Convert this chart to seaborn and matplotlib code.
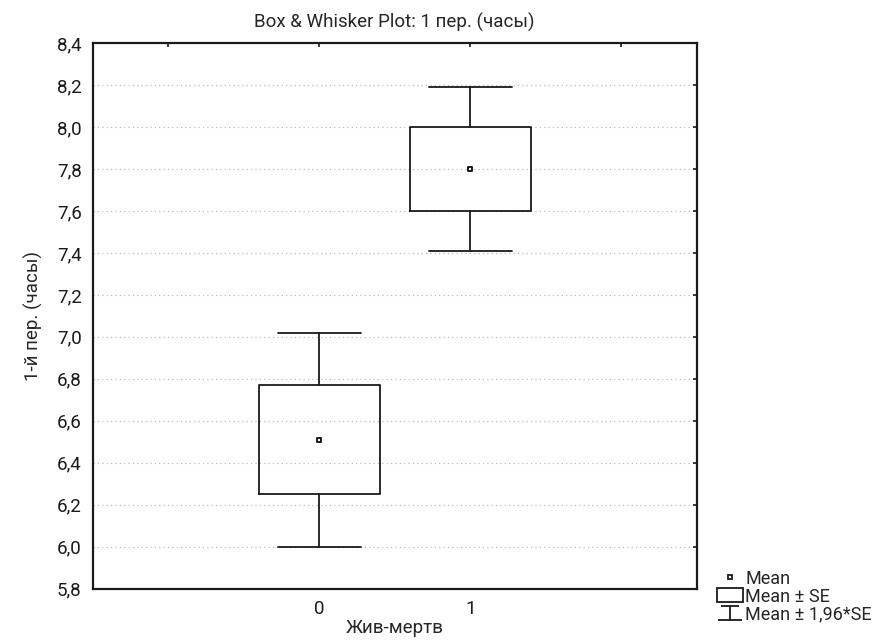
import numpy as np
import pandas as pd
import matplotlib
matplotlib.use("Agg")
import matplotlib.pyplot as plt
import seaborn as sns
from matplotlib.lines import Line2D
from matplotlib.patches import Patch
from matplotlib.path import Path

# values
groups = ["0", "1"]
means = [6.51, 7.80]
se = [0.26, 0.20]
y_ticks = [5.8, 6.0, 6.2, 6.4, 6.6, 6.8, 7.0, 7.2, 7.4, 7.6, 7.8, 8.0, 8.2, 8.4]

sns.set_theme(style="white")
plt.rcParams["font.family"] = ["Roboto", "DejaVu Sans"]

df = pd.DataFrame({"group": groups, "pos": np.arange(len(groups)),
                   "mean": means, "se": se})

fig = plt.figure(figsize=(8.92, 6.42), dpi=100)
ax = fig.add_axes([0.104, 0.083, 0.677, 0.85])

# box = mean +- SE, whiskers = mean +- 1.96*SE
stats = []
for _, r in df.iterrows():
    stats.append({"med": r["mean"], "q1": r["mean"] - r["se"], "q3": r["mean"] + r["se"],
                  "whislo": r["mean"] - 1.96 * r["se"], "whishi": r["mean"] + 1.96 * r["se"],
                  "fliers": [], "label": r["group"]})
line_kw = dict(color="#1a1a1a", linewidth=1.3)
ax.bxp(stats, positions=df["pos"], widths=0.8, capwidths=0.55, showfliers=False,
       boxprops=line_kw, whiskerprops=line_kw, capprops=line_kw,
       medianprops=dict(linewidth=0), manage_ticks=False)

sns.scatterplot(data=df, x="pos", y="mean", marker="s", s=10, color="white",
                edgecolor="#1a1a1a", linewidth=1.4, zorder=5, ax=ax)

ax.set_xlim(-1.5, 2.5)
ax.set_ylim(5.8, 8.4)
ax.set_xticks([-1, 0, 1, 2])
ax.set_xticklabels(["", "0", "1", ""])
ax.set_yticks(y_ticks)
ax.set_yticklabels([f"{v:.1f}".replace(".", ",") for v in y_ticks])
for v in y_ticks[1:-1]:
    ax.axhline(v, color="#bbbbbb", linestyle=(0, (1, 2.5)), linewidth=0.9, zorder=0)

ax.tick_params(direction="in", length=3, width=1.2, top=True, right=True,
               labelsize=13.5, colors="#1a1a1a", pad=8)
for s in ax.spines.values():
    s.set_linewidth(1.6)
    s.set_color("#1a1a1a")

ax.set_xlabel("Жив-мертв", fontsize=13.5, labelpad=1)
ax.set_ylabel("1-й пер. (часы)", fontsize=13.5, labelpad=10)
ax.set_title("Box & Whisker Plot: 1 пер. (часы)", fontsize=13.5, pad=11)

# whisker legend symbol
whisk = Path([(-0.9, 0.7), (0.9, 0.7), (0, 0.7), (0, -0.7), (-1.2, -0.7), (1.2, -0.7)],
             [Path.MOVETO, Path.LINETO, Path.MOVETO, Path.LINETO, Path.MOVETO, Path.LINETO])
handles = [
    Line2D([], [], marker="s", markersize=3.5, markerfacecolor="white",
           markeredgecolor="#1a1a1a", markeredgewidth=1.3, linestyle="none"),
    Patch(facecolor="white", edgecolor="#1a1a1a", linewidth=1.3),
    Line2D([], [], marker=whisk, markersize=17, color="#1a1a1a",
           markeredgewidth=1.3, linestyle="none"),
]
fig.legend(handles, ["Mean", "Mean ± SE", "Mean ± 1,96*SE"], loc="lower left",
           bbox_to_anchor=(0.79, 0.009), frameon=False, fontsize=13,
           handlelength=1.4, handleheight=0.8, handletextpad=0.15,
           labelspacing=0.0, borderpad=0.2)

fig.savefig("out.png", dpi=100)
